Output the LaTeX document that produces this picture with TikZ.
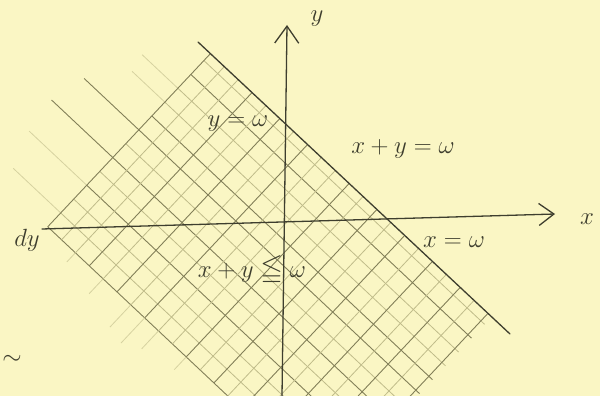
\documentclass[tikz,border=0pt]{standalone}
\usepackage{amssymb}
\usetikzlibrary{arrows.meta}
\definecolor{bg}{RGB}{250,246,196}
\definecolor{ink}{RGB}{62,62,46}
\definecolor{gridD}{RGB}{130,127,88}
\definecolor{gridL}{RGB}{192,188,138}
\definecolor{gridF}{RGB}{214,210,160}
\begin{document}
\begin{tikzpicture}[x=1pt,y=-1pt,
  lbl/.style={text=ink, inner sep=0pt},
  axisline/.style={draw=ink, line width=1.3pt, line cap=round},
  gd/.style={draw=gridD, line width=0.9pt},
  gl/.style={draw=gridL, line width=0.8pt},
  gf/.style={draw=gridF, line width=0.8pt}]
\fill[bg] (0,0) rectangle (600,396);
\useasboundingbox (0,0) rectangle (600,396);
% hatching
\begin{scope}
\clip (0,0) rectangle (600,396);
\begin{scope}[shift={(198,42)}, x={(0.729pt,-0.685pt)}, y={(0.685pt,0.729pt)}]
  \clip (-120,-300) -- (420,-300) -- (420,0) -- (-120,0) -- cycle;
  % lines parallel to x+y=w
  \foreach \v/\st in {-9.5/gl, -28.5/gd, -47.5/gl, -66.5/gl, -85.5/gd, -104.5/gd,
      -123.5/gl, -142.5/gd, -161.5/gl, -180.5/gd, -199.5/gl, -218.5/gl, -237.5/gd}
    \draw[\st] (17,\v) -- (402,\v);
  % their strokes beyond the upper-left edge
  \foreach \v/\us/\st in {-47.5/-32/gf, -66.5/-28/gf, -104.5/-58/gd, -142.5/-67/gd,
      -180.5/-62/gf, -218.5/-48/gf}
    \draw[\st] (\us,\v) -- (17,\v);
  % lines perpendicular to x+y=w
  \foreach \u/\st in {17/gd, 36/gl, 55/gl, 74/gd, 93/gl, 112/gd, 131/gl, 150/gd,
      169/gl, 188/gl, 207/gd, 226/gl, 245/gd, 264/gl, 283/gd, 302/gl, 321/gd,
      340/gl, 359/gd, 378/gl, 397/gd}
    \draw[\st] (\u,-237.5) -- (\u,0);
  % their strokes beyond the lower-left edge
  \foreach \u/\vs in {55/-250, 93/-258, 131/-268, 150/-272, 169/-262, 207/-255}
    \draw[gf] (\u,\vs) -- (\u,-237.5);
\end{scope}
\end{scope}
% axes and boundary
\coordinate (xs) at (42,229);
\coordinate (xe) at (555,214);
\coordinate (ys) at (282,396);
\coordinate (ye) at (287,25);
\coordinate (bs) at (198,42);
\coordinate (be) at (510,334);
\draw[axisline,-{Straight Barb[length=15pt,width=22pt]}] (xs) -- (xe);
\draw[axisline,-{Straight Barb[length=17pt,width=24pt]}] (ys) -- (ye);
\draw[axisline] (bs) -- (be);
% labels
\node[lbl, font=\fontsize{40}{40}\selectfont] (ylab) at (317,19) {$y$};
\node[lbl, font=\fontsize{40}{40}\selectfont] (xlab) at (587,219) {$x$};
\node[lbl, font=\fontsize{27}{27}\selectfont] (yw) at (238,124) {$y=\omega$};
\node[lbl, font=\fontsize{30}{30}\selectfont] (xyw) at (403,149) {$x+y=\omega$};
\node[lbl, font=\fontsize{29}{29}\selectfont] (xw) at (454,242) {$x=\omega$};
\node[lbl, font=\fontsize{29}{29}\selectfont] (ineq) at (252,270) {$x+y\leqq\omega$};
\node[lbl, font=\fontsize{34}{34}\selectfont] (dy) at (27,240) {$dy$};
\node[lbl, font=\fontsize{40}{40}\selectfont] (tl) at (12,360) {$\sim$};
\end{tikzpicture}
\end{document}
